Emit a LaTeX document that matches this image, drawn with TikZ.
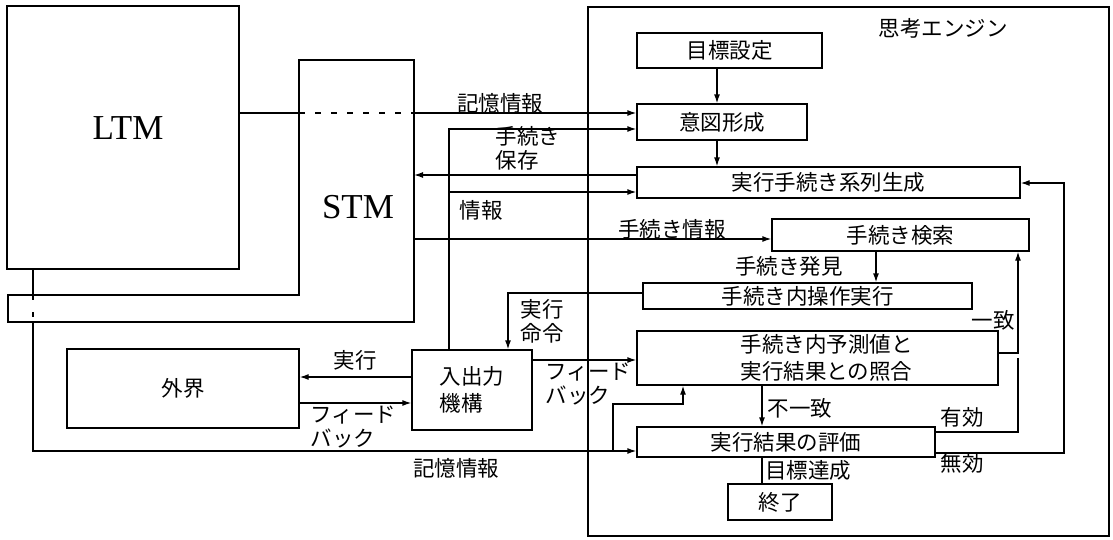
\documentclass[tikz,border=0pt]{standalone}
\usepackage{fontspec}
\setmainfont{Liberation Serif}
\newfontfamily\jp{Noto Sans CJK JP}
\usetikzlibrary{arrows.meta}
\begin{document}
\begin{tikzpicture}[x=1pt,y=-1pt,line width=1.3pt,
  box/.style={draw,rectangle,inner sep=0pt,font=\jp\fontsize{21.5}{27}\selectfont},
  lbl/.style={inner sep=0pt,font=\jp\fontsize{21.5}{24}\selectfont},
  arr/.style={-{Latex[length=9pt,width=6pt]}},
  big/.style={inner sep=0pt,font=\fontsize{35}{40}\selectfont}]
\useasboundingbox (0,0) rectangle (1113,539);

% memories
\node[box,minimum width=232pt,minimum height=263pt] (ltm) at (123,137.5) {};
\node[big] (ltmtext) at (128,128.5) {LTM};
\draw (299,60) -- (414,60) -- (414,322) -- (8,322) -- (8,295) -- (299,295) -- cycle;
\coordinate (stmR) at (414,60);
\coordinate (stmL) at (299,60);
\node[big] (stmtext) at (358,207) {STM};

% outside world and I/O
\node[box,minimum width=232pt,minimum height=79pt] (gaikai) at (183,388.5) {外界};
\node[box,minimum width=120pt,minimum height=80pt,align=left] (io) at (472,390) {入出力\\機構};

% thinking engine
\node[draw,rectangle,inner sep=0pt,minimum width=521pt,minimum height=529pt] (engine) at (848.5,271.5) {};
\node[lbl] (enginetext) at (943,28) {思考エンジン};
\node[box,minimum width=185pt,minimum height=35pt] (mokuhyo) at (729.5,50.5) {目標設定};
\node[box,minimum width=170pt,minimum height=36pt] (ito) at (722,122) {意図形成};
\node[box,minimum width=383pt,minimum height=31pt] (jikko) at (828.5,182.5) {実行手続き系列生成};
\node[box,minimum width=257pt,minimum height=32pt] (kensaku) at (900.5,235) {手続き検索};
\node[box,minimum width=329pt,minimum height=26pt] (sousa) at (807.5,296) {手続き内操作実行};
\node[box,minimum width=361pt,minimum height=54pt] (shogo) at (817.5,358) {};
\node[box,draw=none,align=left,anchor=west] (shogotext) at (740,358) {手続き内予測値と\\実行結果との照合};
\node[box,minimum width=298pt,minimum height=30pt] (hyoka) at (786,442) {実行結果の評価};
\node[box,minimum width=104pt,minimum height=36pt] (owari) at (780,502) {終了};

% LTM -> intention (memory information)
\draw (ltm.east |- 0,113) -- (stmL |- 0,113);
\draw[dash pattern=on 6pt off 10pt] (stmL |- 0,113) -- (stmR |- 0,113);
\draw[arr] (stmR |- 0,113) -- (ito.west |- 0,113);
\node[lbl] (l1) at (500,103) {記憶情報};

% goal -> intention -> sequence
\draw[arr] (mokuhyo.south -| 717,0) -- (ito.north -| 717,0);
\draw[arr] (ito.south -| 717,0) -- (jikko.north -| 717,0);

% I/O information up to intention and sequence
\coordinate (iobr) at (449,192);
\draw[arr] (io.north -| 449,0) |- (ito.west |- 0,129);
\draw[arr] (iobr) -- (jikko.west |- 0,192);
\node[lbl,anchor=west,align=left] (l2) at (495,148) {手続き\\保存};
\node[lbl] (l3) at (481,210) {情報};

% sequence -> STM (save procedure)
\draw[arr] (jikko.west |- 0,175) -- (stmR |- 0,175);

% STM -> search
\draw[arr] (stmR |- 0,239) -- (kensaku.west |- 0,239);
\node[lbl] (l4) at (672,229) {手続き情報};

% search -> operation
\draw[arr] (kensaku.south -| 876,0) -- (sousa.north -| 876,0);
\node[lbl] (l5) at (789,266) {手続き発見};

% operation -> I/O (execution command)
\draw[arr] (sousa.west |- 0,293) -| (io.north -| 508,0);
\node[lbl,anchor=west,align=left] (l6) at (520,321) {実行\\命令};

% I/O <-> world
\draw[arr] (io.west |- 0,377) -- (gaikai.east |- 0,377);
\node[lbl] (l7) at (355,360) {実行};
\draw[arr] (gaikai.east |- 0,403) -- (io.west |- 0,403);
\node[lbl,anchor=west,align=left] (l8) at (310,427) {フィード\\バック};

% I/O -> comparison (feedback)
\draw[arr] (io.east |- 0,360) -- (shogo.west |- 0,360);
\node[lbl,anchor=west,align=left] (l9) at (545,384) {フィード\\バック};

% comparison -> search (match)
\draw[arr] (shogo.east |- 0,353) -| (kensaku.south -| 1018,0);
\node[lbl] (l10) at (993,320) {一致};

% comparison -> evaluation (mismatch)
\draw[arr] (shogo.south -| 762,0) -- (hyoka.north -| 762,0);
\node[lbl] (l11) at (800,408) {不一致};

% evaluation -> valid / invalid
\draw (hyoka.east |- 0,432) -| (shogo.east -| 1018,0);
\node[lbl] (l12) at (962,417) {有効};
\coordinate (mukoR) at (1064,453);
\draw[arr] (hyoka.east |- 0,453) -- (mukoR) |- (jikko.east |- 0,183);
\node[lbl] (l13) at (962,463) {無効};

% evaluation -> end
\draw (hyoka.south -| 762,0) -- (owari.north -| 762,0);
\node[lbl] (l14) at (808,470) {目標達成};

% LTM -> evaluation (memory information)
\coordinate (barTop) at (33,295);
\coordinate (barBot) at (33,322);
\coordinate (membr) at (613,451);
\draw (ltm.south west -| barTop) -- (barTop);
\draw[dash pattern=on 5pt off 12pt on 5pt off 10pt] (barTop) -- (barBot);
\draw[arr] (barBot) |- (hyoka.west |- 0,451);
\draw[arr] (membr) |- (683,404) -- (shogo.south -| 683,0);
\node[lbl] (l15) at (456,468) {記憶情報};
\end{tikzpicture}
\end{document}
